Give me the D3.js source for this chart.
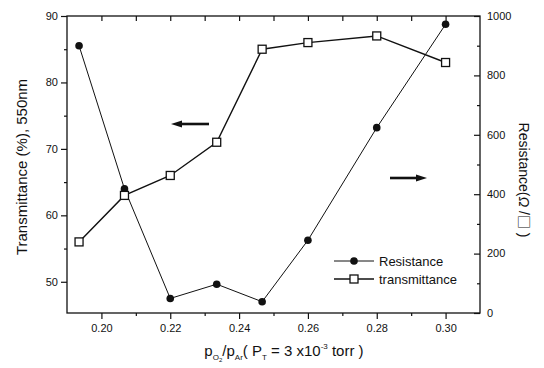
<!DOCTYPE html>
<html><head><meta charset="utf-8">
<script src="https://cdn.jsdelivr.net/npm/d3@7"></script>
<style>body{margin:0;background:#fff}svg{display:block}text{font-family:"Liberation Sans",Arial,sans-serif;fill:#111}</style>
</head><body><svg id="c" width="544" height="368"></svg>
<script>
const ratio = [0.1935, 0.2067, 0.22, 0.2335, 0.2467, 0.26, 0.28, 0.30];
const transmittance = [56, 63, 66, 71, 85, 86, 87, 83];
const resistance = [900, 418, 49, 97, 38, 245, 624, 972];
const xTicks = [0.20, 0.22, 0.24, 0.26, 0.28, 0.30];
const xMinor = [0.21, 0.23, 0.25, 0.27, 0.29];
const leftTicks = [50, 60, 70, 80, 90];
const leftMinor = [55, 65, 75, 85];
const rightTicks = [0, 200, 400, 600, 800, 1000];
const rightMinor = [100, 300, 500, 700, 900];

const svg = d3.select("#c");
const L = 67, R = 480, T = 16, B = 313;
const x = d3.scaleLinear().domain([0.19, 0.31]).range([L, R]);
const yL = d3.scaleLinear().domain([45.3, 90]).range([B, T]);
const yR = d3.scaleLinear().domain([0, 1000]).range([B, T]);
const ink = "#111";

// frame
svg.append("rect").attr("x", L).attr("y", T).attr("width", R - L).attr("height", B - T)
  .attr("fill", "none").attr("stroke", ink).attr("stroke-width", 1.3);

// bottom axis
svg.append("g").attr("transform", `translate(0,${B})`)
  .call(d3.axisBottom(x).tickValues(xTicks).tickFormat(d3.format(".2f")).tickSize(6).tickPadding(5));
svg.append("g").attr("transform", `translate(0,${B})`)
  .call(d3.axisBottom(x).tickValues(xMinor).tickFormat("").tickSize(3));
// top axis (inward)
svg.append("g").attr("transform", `translate(0,${T})`)
  .call(d3.axisBottom(x).tickValues(xTicks.concat(xMinor)).tickFormat("").tickSize(5));
// left axis
svg.append("g").attr("transform", `translate(${L},0)`)
  .call(d3.axisLeft(yL).tickValues(leftTicks).tickFormat(d3.format("d")).tickSize(6).tickPadding(3));
svg.append("g").attr("transform", `translate(${L},0)`)
  .call(d3.axisLeft(yL).tickValues(leftMinor).tickFormat("").tickSize(3));
// right axis (ticks inward, labels outside)
svg.append("g").attr("transform", `translate(${R},0)`)
  .call(d3.axisLeft(yR).tickValues(rightTicks).tickFormat("").tickSize(6));
svg.append("g").attr("transform", `translate(${R},0)`)
  .call(d3.axisLeft(yR).tickValues(rightMinor).tickFormat("").tickSize(3));
svg.append("g").selectAll("text").data(rightTicks).join("text")
  .attr("x", R + 7).attr("y", d => yR(d)).attr("dy", "0.35em")
  .attr("font-size", 11).text(d => d);

svg.selectAll(".domain").remove();
svg.selectAll(".tick line").attr("stroke", ink).attr("stroke-width", 1.2);
svg.selectAll(".tick text").attr("font-size", 11).attr("fill", ink);

// lines
const idx = d3.range(ratio.length);
svg.append("path").datum(idx).attr("fill", "none").attr("stroke", ink).attr("stroke-width", 1)
  .attr("d", d3.line().x(i => x(ratio[i])).y(i => yR(resistance[i])));
svg.append("path").datum(idx).attr("fill", "none").attr("stroke", ink).attr("stroke-width", 1.4)
  .attr("d", d3.line().x(i => x(ratio[i])).y(i => yL(transmittance[i])));
svg.append("g").selectAll("circle").data(idx).join("circle")
  .attr("cx", i => x(ratio[i])).attr("cy", i => yR(resistance[i])).attr("r", 3.8).attr("fill", ink);
svg.append("g").selectAll("rect").data(idx).join("rect")
  .attr("x", i => x(ratio[i]) - 4).attr("y", i => yL(transmittance[i]) - 4)
  .attr("width", 8).attr("height", 8).attr("fill", "#fff").attr("stroke", ink).attr("stroke-width", 1.3);

// arrows
function arrow(x1, x2, y, dir) {
  const g = svg.append("g");
  const tip = dir < 0 ? x1 : x2;
  const base = dir < 0 ? x2 : x1;
  g.append("line").attr("x1", base).attr("x2", tip - dir * 8).attr("y1", y).attr("y2", y)
    .attr("stroke", ink).attr("stroke-width", 2.6);
  g.append("path").attr("d", `M${tip},${y} L${tip - dir * 11},${y - 3.5} L${tip - dir * 11},${y + 3.5} Z`).attr("fill", ink);
}
arrow(171, 209, 124, -1);
arrow(390, 427, 178, 1);

// legend
const lg = svg.append("g");
lg.append("line").attr("x1", 334).attr("x2", 374).attr("y1", 261).attr("y2", 261).attr("stroke", ink).attr("stroke-width", 1);
lg.append("circle").attr("cx", 354).attr("cy", 261).attr("r", 3.8).attr("fill", ink);
lg.append("text").attr("x", 379).attr("y", 261).attr("dy", "0.35em").attr("font-size", 13).text("Resistance");
lg.append("line").attr("x1", 334).attr("x2", 374).attr("y1", 279).attr("y2", 279).attr("stroke", ink).attr("stroke-width", 1.5);
lg.append("rect").attr("x", 350).attr("y", 275).attr("width", 8).attr("height", 8).attr("fill", "#fff").attr("stroke", ink).attr("stroke-width", 1.3);
lg.append("text").attr("x", 379).attr("y", 279).attr("dy", "0.35em").attr("font-size", 13).text("transmittance");

// axis titles
svg.append("text").attr("transform", "translate(27,167) rotate(-90)").attr("text-anchor", "middle")
  .attr("font-size", 15).text("Transmittance (%), 550nm");
const rt = svg.append("text").attr("transform", "translate(519,180) rotate(90)").attr("text-anchor", "middle")
  .attr("font-size", 14);
rt.append("tspan").text("Resistance(");
rt.append("tspan").attr("font-style", "italic").text("\u03A9");
rt.append("tspan").text(" /");
rt.append("tspan").attr("font-family", "Noto Sans CJK SC").attr("fill", ink).text("\u25A1\uFE0E");
rt.append("tspan").text(" )");

const xt = svg.append("text").attr("x", 284).attr("y", 356).attr("text-anchor", "middle").attr("font-size", 15);
xt.append("tspan").text("p");
xt.append("tspan").attr("font-size", 8).attr("dy", 4).text("O");
xt.append("tspan").attr("font-size", 6).attr("dy", 2).text("2");
xt.append("tspan").attr("dy", -6).text("/p");
xt.append("tspan").attr("font-size", 8).attr("dy", 4).text("Ar");
xt.append("tspan").attr("dy", -4).text("( P");
xt.append("tspan").attr("font-size", 8).attr("dy", 4).text("T");
xt.append("tspan").attr("dy", -4).text(" = 3 x10");
xt.append("tspan").attr("font-size", 8).attr("dy", -7).text("-3");
xt.append("tspan").attr("dy", 7).text(" torr )");
</script></body></html>
